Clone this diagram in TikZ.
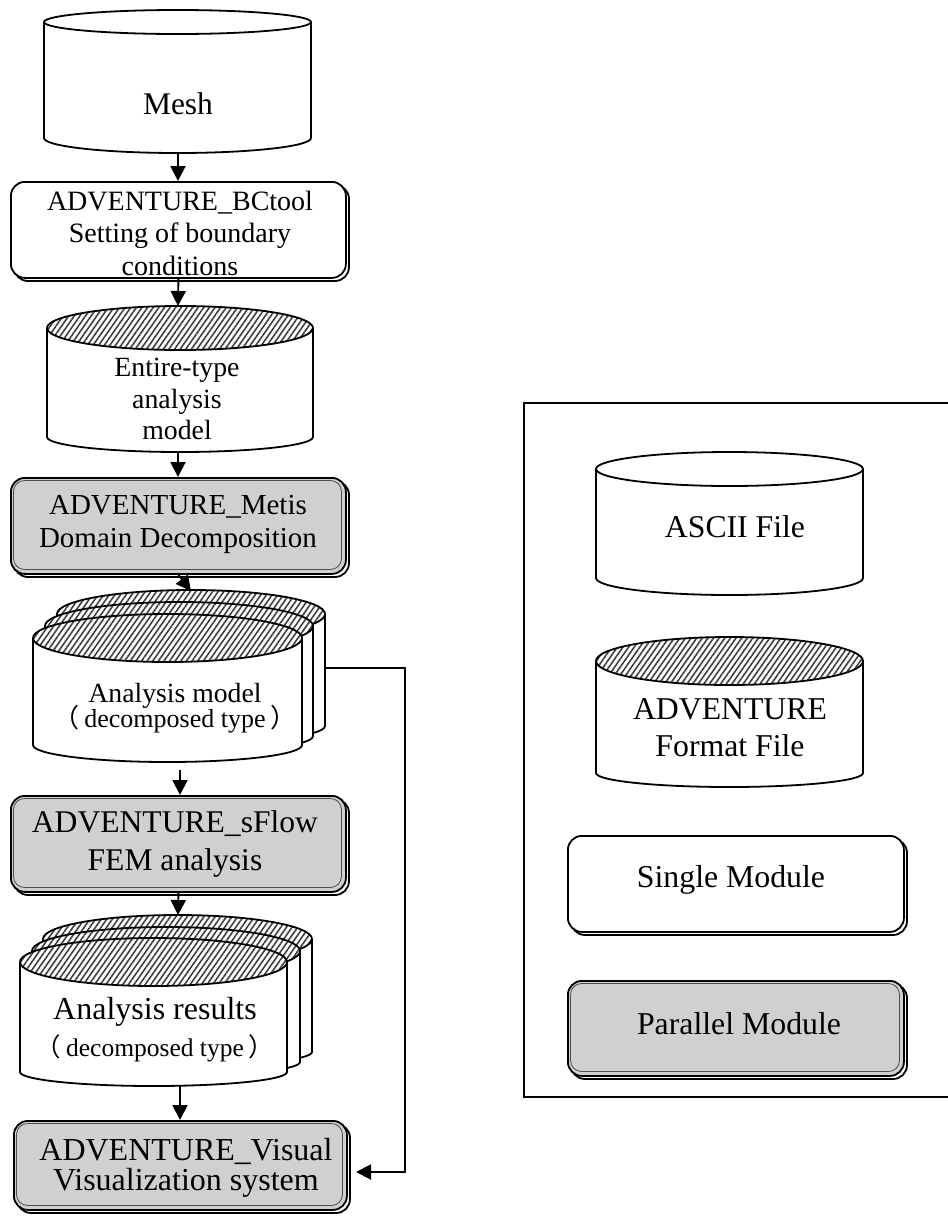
\documentclass[tikz,border=0pt]{standalone}
\usepackage{fontspec}
\setmainfont{Liberation Serif}
\newfontfamily\cjk{Noto Sans CJK SC}
\usetikzlibrary{patterns.meta,arrows.meta}
\definecolor{boxgray}{RGB}{208,208,208}
\newcommand\tightls{\lineskiplimit-50pt\relax}
\newcommand\decomp{{\cjk （}\hspace{5pt}decomposed type\hspace{5pt}{\cjk ）}}
\tikzset{
  ln/.style={line width=1.8pt},
  arr/.style={line width=1.9pt,-{Triangle[width=15pt,length=15pt]}},
  hatch/.style={pattern={Lines[angle=55,distance=4.6pt,line width=1.6pt]},pattern color=black!75},
  lbl/.style={inner sep=0pt,align=center},
}
\newcommand\mycyl[7]{%
  \pgfmathsetmacro\myrx{(#2-#1)/2}%
  \pgfmathsetmacro\mycx{(#1+#2)/2}%
  \fill[white] (#1,#3) -- (#1,#5) arc[start angle=180,end angle=360,x radius=\myrx pt,y radius=#6pt] -- (#2,#3) -- cycle;
  \draw[ln] (#1,#3) -- (#1,#5) arc[start angle=180,end angle=360,x radius=\myrx pt,y radius=#6pt] -- (#2,#3);
  \fill[white] (\mycx,#3) ellipse[x radius=\myrx pt,y radius=#4pt];
  \ifnum#7=1 \fill[hatch] (\mycx,#3) ellipse[x radius=\myrx pt,y radius=#4pt];\fi
  \draw[ln] (\mycx,#3) ellipse[x radius=\myrx pt,y radius=#4pt];
}
\newcommand\mybox[6]{%
  \draw[ln,fill=white,rounded corners=14pt] (#2+4,#3+4) rectangle (#4+4,#5+4);
  \ifnum#6=1
    \node[ln,draw,fill=boxgray,rounded corners=14pt,inner sep=0pt,anchor=north west,
      minimum width={(#4-#2)*1pt},minimum height={(#5-#3)*1pt}] (#1) at (#2,#3) {};
    \draw[line width=0.8pt,gray!60!black,rounded corners=11pt] (#2+3.5,#3+3.5) rectangle (#4-3.5,#5-3.5);
  \else
    \node[ln,draw,fill=white,rounded corners=14pt,inner sep=0pt,anchor=north west,
      minimum width={(#4-#2)*1pt},minimum height={(#5-#3)*1pt}] (#1) at (#2,#3) {};
  \fi
}
\begin{document}
\begin{tikzpicture}[x=1pt,y=-1pt]
\useasboundingbox (0,0) rectangle (948,1216);
\fill[white] (0,0) rectangle (948,1216);

% legend frame
\draw[line width=1.5pt] (960,403) -- (524,403) -- (524,1097) -- (960,1097);

% Mesh
\mycyl{44}{311}{22}{12}{138}{15}{0}
\coordinate (meshB) at (178,153);
\node[lbl,font=\fontsize{31.5}{36}\selectfont] (meshT) at (178,104) {Mesh};

% BCtool
\mybox{bc}{10}{181}{345}{277}{0}
\node[lbl,font=\fontsize{28}{32.5}\selectfont] (bcT) at (180,233) {ADVENTURE\_BCtool\\Setting of boundary\\conditions};

% Entire-type
\mycyl{47}{313}{328}{22}{437}{15}{1}
\coordinate (entTop) at (178,306);
\coordinate (entB) at (178,452);
\node[lbl,font=\fontsize{27.8}{31.5}\selectfont] (entT) at (177,399) {Entire-type\\analysis\\model};

% Metis
\mybox{metis}{10}{477}{345}{573}{1}
\node[lbl,font=\fontsize{29}{33}\selectfont] (metT) at (178,524.5) {ADVENTURE\_Metis\\Domain Decomposition};

% Analysis model stack
\mycyl{57}{325}{614}{24}{726}{17}{1}
\mycyl{45}{313}{626}{24}{736}{17}{1}
\mycyl{33}{302}{638}{24}{745}{17}{1}
\coordinate (amTop) at (191,591);
\coordinate (amB) at (180,770);
\coordinate (amR) at (325,668);
\node[lbl,font=\fontsize{27.7}{25.5}\selectfont\tightls] (amT) at (175,708) {Analysis model\\{\fontsize{26}{25.5}\selectfont\decomp}};

% sFlow
\mybox{sflow}{10}{795}{345}{891}{1}
\node[lbl,font=\fontsize{31.6}{38}\selectfont] (sfT) at (175,843.5) {ADVENTURE\_sFlow\\FEM analysis};

% Analysis results stack
\mycyl{43}{312}{939}{24}{1052}{14}{1}
\mycyl{32}{300}{951}{24}{1062}{14}{1}
\mycyl{20}{287}{962}{24}{1072}{14}{1}
\coordinate (arTop) at (178,915);
\coordinate (arB) at (180,1085);
\node[lbl,font=\fontsize{32}{37}\selectfont] (arT) at (155,1030) {Analysis results\\{\fontsize{25.5}{37}\selectfont\decomp}};

% Visual
\mybox{visual}{13}{1120}{346}{1209}{1}
\coordinate (vtip) at (356,1172);
\node[lbl,font=\fontsize{32}{30}\selectfont\tightls] (viT) at (186,1167.5) {ADVENTURE\_Visual\\Visualization system};

% Legend
\mycyl{596}{863}{469}{17}{578}{17}{0}
\node[lbl,font=\fontsize{31.7}{36}\selectfont] (asciiT) at (735,527) {ASCII File};
\mycyl{596}{863}{661}{24}{773}{14}{1}
\node[lbl,font=\fontsize{31.75}{37}\selectfont] (fmtT) at (730,728) {ADVENTURE\\Format File};
\mybox{single}{567}{835}{903}{931}{0}
\node[lbl,font=\fontsize{31.8}{36}\selectfont] (singleT) at (731,879.5) {Single Module};
\mybox{parallel}{567}{980}{903}{1075}{1}
\node[lbl,font=\fontsize{31.8}{36}\selectfont] (parT) at (739,1024) {Parallel Module};

% connectors
\draw[arr] (meshB) -- (meshB |- bc.north);
\draw[arr] (bc.south) -- (entTop);
\draw[arr] (entB) -- (entB |- metis.north);
\draw[arr] (metis.south) -- (amTop);
\draw[arr] (amB) -- (amB |- sflow.north);
\draw[arr] (sflow.south) -- (arTop);
\draw[arr] (arB) -- (arB |- visual.north);
\draw[arr] (amR) -- ++(80,0) |- (vtip);
\end{tikzpicture}
\end{document}
